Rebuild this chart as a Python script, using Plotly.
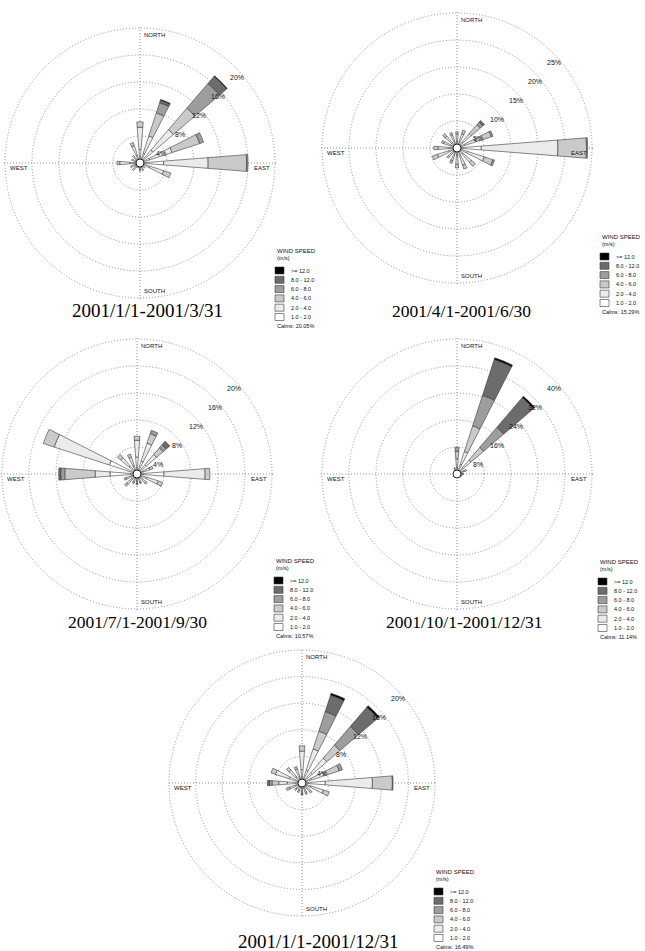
import math
import plotly.graph_objects as go

W, H = 645, 951

DIRS = ["N", "NNE", "NE", "ENE", "E", "ESE", "SE", "SSE",
        "S", "SSW", "SW", "WSW", "W", "WNW", "NW", "NNW"]
THETA = [i * 22.5 for i in range(16)]
BINS = ["1.0 - 2.0", "2.0 - 4.0", "4.0 - 6.0", "6.0 - 8.0", "8.0 - 12.0", ">= 12.0"]
COLORS = ["#ffffff", "#ebebeb", "#cacaca", "#9d9d9d", "#6c6c6c", "#000000"]

# frequency (%) per speed bin (rows) and direction (columns)
jan_mar = [
    [2.0, 1.5, 2.5, 1.5, 3.5, 1.5, 0.6, 0.7, 0.6, 0.5, 0.8, 0.8, 1.5, 0.7, 0.8, 1.2],
    [3.3, 2.7, 4.0, 3.5, 6.6, 2.2, 0.4, 0.5, 0.4, 0.3, 0.7, 0.7, 1.5, 0.6, 0.7, 1.5],
    [0.8, 3.6, 4.2, 4.3, 5.7, 1.1, 0.0, 0.0, 0.2, 0.0, 0.0, 0.0, 0.4, 0.0, 0.0, 0.5],
    [0.0, 1.6, 4.8, 0.6, 0.2, 0.0, 0.0, 0.0, 0.0, 0.0, 0.0, 0.0, 0.0, 0.0, 0.0, 0.0],
    [0.0, 0.4, 1.4, 0.0, 0.0, 0.0, 0.0, 0.0, 0.0, 0.0, 0.0, 0.0, 0.0, 0.0, 0.0, 0.0],
    [0.0, 0.1, 0.1, 0.0, 0.0, 0.0, 0.0, 0.0, 0.0, 0.0, 0.0, 0.0, 0.0, 0.0, 0.0, 0.0],
]
apr_jun = [
    [1.2, 1.2, 1.5, 1.5, 4.5, 2.0, 1.5, 1.5, 1.4, 1.2, 1.0, 1.6, 1.5, 1.2, 1.3, 1.2],
    [1.4, 1.6, 2.0, 2.2, 14.2, 3.3, 2.0, 1.8, 1.6, 1.3, 1.1, 2.2, 2.0, 1.4, 1.6, 1.4],
    [0.4, 0.7, 2.2, 3.0, 5.3, 1.7, 1.0, 0.8, 0.7, 0.5, 0.4, 1.0, 0.8, 0.4, 0.6, 0.4],
    [0.0, 0.0, 0.6, 0.3, 0.2, 0.3, 0.0, 0.0, 0.0, 0.0, 0.0, 0.0, 0.0, 0.0, 0.0, 0.0],
    [0.0, 0.0, 0.4, 0.0, 0.0, 0.0, 0.0, 0.0, 0.0, 0.0, 0.0, 0.0, 0.0, 0.0, 0.0, 0.0],
    [0.0] * 16,
]
jul_sep = [
    [2.5, 2.0, 1.8, 1.0, 4.0, 1.5, 0.9, 0.7, 0.6, 0.7, 1.0, 0.9, 4.0, 4.3, 1.6, 1.3],
    [2.5, 2.8, 2.0, 1.0, 6.1, 1.8, 0.8, 0.6, 0.5, 0.6, 1.0, 0.8, 2.2, 8.6, 1.6, 1.3],
    [0.6, 1.5, 1.3, 0.5, 0.7, 0.7, 0.3, 0.2, 0.3, 0.2, 0.4, 0.3, 4.5, 1.7, 0.6, 0.5],
    [0.0, 0.5, 0.6, 0.0, 0.0, 0.0, 0.0, 0.0, 0.2, 0.0, 0.0, 0.0, 0.6, 0.0, 0.0, 0.0],
    [0.0, 0.0, 0.7, 0.0, 0.0, 0.0, 0.0, 0.0, 0.0, 0.0, 0.0, 0.0, 0.3, 0.0, 0.0, 0.0],
    [0.0] * 16,
]
oct_dec = [
    [2.0, 3.0, 2.5, 1.0, 0.8, 0.7, 0.5, 0.4, 0.4, 0.3, 0.3, 0.3, 0.5, 0.5, 0.7, 1.0],
    [2.5, 4.0, 3.0, 1.2, 0.8, 0.6, 0.4, 0.3, 0.3, 0.3, 0.3, 0.3, 0.3, 0.3, 0.5, 0.7],
    [2.2, 8.0, 4.9, 0.8, 0.4, 0.2, 0.1, 0.1, 0.1, 0.0, 0.0, 0.0, 0.0, 0.0, 0.0, 0.3],
    [1.2, 9.5, 7.8, 0.0, 0.0, 0.0, 0.0, 0.0, 0.0, 0.0, 0.0, 0.0, 0.0, 0.0, 0.0, 0.0],
    [0.0, 11.2, 11.6, 0.0, 0.0, 0.0, 0.0, 0.0, 0.0, 0.0, 0.0, 0.0, 0.0, 0.0, 0.0, 0.0],
    [0.0, 0.5, 0.5, 0.0, 0.0, 0.0, 0.0, 0.0, 0.0, 0.0, 0.0, 0.0, 0.0, 0.0, 0.0, 0.0],
]
full_year = [
    [2.0, 2.0, 2.0, 1.5, 3.5, 1.4, 0.9, 0.8, 0.7, 0.6, 0.6, 1.0, 2.2, 2.0, 1.2, 1.0],
    [2.8, 3.4, 2.9, 2.0, 7.1, 2.0, 0.8, 0.7, 0.6, 0.6, 0.6, 1.0, 1.3, 2.2, 1.4, 1.2],
    [0.8, 2.8, 2.6, 2.4, 3.0, 0.9, 0.3, 0.3, 0.3, 0.3, 0.3, 0.5, 1.0, 0.7, 0.5, 0.4],
    [0.0, 3.1, 3.7, 0.5, 0.1, 0.0, 0.0, 0.0, 0.2, 0.0, 0.0, 0.0, 0.4, 0.0, 0.0, 0.0],
    [0.0, 2.6, 3.8, 0.0, 0.0, 0.0, 0.0, 0.0, 0.0, 0.0, 0.0, 0.0, 0.3, 0.0, 0.0, 0.0],
    [0.0, 0.3, 0.3, 0.0, 0.0, 0.0, 0.0, 0.0, 0.0, 0.0, 0.0, 0.0, 0.0, 0.0, 0.0, 0.0],
]

TITLES = ["2001/1/1-2001/3/31", "2001/4/1-2001/6/30", "2001/7/1-2001/9/30",
          "2001/10/1-2001/12/31", "2001/1/1-2001/12/31"]
CALMS = [20.05, 15.29, 10.57, 11.14, 16.49]
RING_TICKS = [[4, 8, 12, 16, 20], [5, 10, 15, 20, 25], [4, 8, 12, 16, 20],
              [8, 16, 24, 32, 40], [4, 8, 12, 16, 20]]
PERIODS = [jan_mar, apr_jun, jul_sep, oct_dec, full_year]

# layout (pixel geometry of each rose: centre x, centre y, outer-ring radius)
GEOM = [(140, 163, 135), (457, 148, 135), (137, 474, 135), (457, 474, 135), (302, 783, 133)]
TITLE_POS = [(147, 311, 19), (461, 311, 17.5), (137, 622, 17.5), (464, 622, 17.5), (318, 941, 19)]
LEG_POS = [(275, 251), (600, 237), (274, 561), (598, 562), (434, 872)]

GRID = "#8a8fa0"
PAD = 1.012


def px(x):
    return x / W


def py(y):
    return 1 - y / H


fig = go.Figure()
annotations = []
shapes = []

for k, data in enumerate(PERIODS):
    sub = "polar" if k == 0 else f"polar{k + 1}"
    for b in range(6):
        fig.add_trace(go.Barpolar(
            r=data[b], theta=THETA, width=9, subplot=sub, name=BINS[b],
            marker=dict(color=COLORS[b], line=dict(color="#3a3a3a", width=0.6)),
            showlegend=False,
        ))
    fig.add_trace(go.Scatterpolar(
        r=[0], theta=[0], mode="markers", subplot=sub, showlegend=False,
        marker=dict(size=8, color="white", line=dict(color="#222", width=1)),
    ))

    cx, cy, R = GEOM[k]
    Rd = R * PAD
    ticks = RING_TICKS[k]
    fig.update_layout(**{sub: dict(
        domain=dict(x=[px(cx - Rd), px(cx + Rd)], y=[py(cy + Rd), py(cy - Rd)]),
        bgcolor="white",
        barmode="stack",
        radialaxis=dict(range=[0, ticks[-1] * PAD], tickvals=ticks,
                        showticklabels=False, showline=False, ticks="",
                        gridcolor=GRID, griddash="1px,2px", gridwidth=1, layer="above traces"),
        angularaxis=dict(rotation=90, direction="clockwise", tickvals=[0, 90, 180, 270],
                         showticklabels=False, ticks="", showline=False,
                         gridcolor=GRID, griddash="1px,2px", gridwidth=1, layer="below traces"),
    )})

    # ring labels: just below where each ring crosses the 45 degree line
    for t in ticks:
        rp = R * t / ticks[-1]
        annotations.append(dict(
            x=px(cx + rp * math.cos(math.radians(45)) + 1.5),
            y=py(cy - rp * math.sin(math.radians(45)) + 9.5),
            xref="paper", yref="paper", showarrow=False, text=f"{t}%",
            xanchor="center", yanchor="middle",
            font=dict(size=7, family="Liberation Sans", color="#111")))

    lab_font = dict(size=6, family="Liberation Sans", color="#111")
    annotations += [
        dict(x=px(cx + 2), y=py(cy - R + 7), text="NORTH", xanchor="left", yanchor="middle"),
        dict(x=px(cx + 2), y=py(cy + R - 7), text="SOUTH", xanchor="left", yanchor="middle"),
        dict(x=px(cx + R - 3), y=py(cy + 5), text="EAST", xanchor="right", yanchor="middle"),
        dict(x=px(cx - R + 3), y=py(cy + 5), text="WEST", xanchor="left", yanchor="middle"),
    ]
    for a in annotations[-4:]:
        a.update(xref="paper", yref="paper", showarrow=False, font=lab_font)

    tx, ty, ts = TITLE_POS[k]
    annotations.append(dict(x=px(tx), y=py(ty), xref="paper", yref="paper", showarrow=False,
                            text=TITLES[k], xanchor="center", yanchor="middle",
                            font=dict(size=ts, family="Liberation Serif", color="black")))

    # legend block
    lx, ly = LEG_POS[k]
    leg_font = dict(size=5.5, family="Liberation Sans", color="#111")
    annotations.append(dict(x=px(lx), y=py(ly), xref="paper", yref="paper", showarrow=False,
                            text="WIND SPEED", xanchor="left", yanchor="middle",
                            font=dict(size=6, family="Liberation Sans", color="#111")))
    annotations.append(dict(x=px(lx), y=py(ly + 7), xref="paper", yref="paper", showarrow=False,
                            text="(m/s)", xanchor="left", yanchor="middle", font=leg_font))
    for i, b in enumerate(reversed(range(6))):
        top = ly + 16 + i * 9.3
        shapes.append(dict(type="rect", xref="paper", yref="paper",
                           x0=px(lx), x1=px(lx + 9), y0=py(top), y1=py(top + 7),
                           fillcolor=COLORS[b], line=dict(color="#3a3a3a", width=0.6)))
        annotations.append(dict(x=px(lx + 14), y=py(top + 3.5), xref="paper", yref="paper",
                                showarrow=False, text=BINS[b], xanchor="left", yanchor="middle",
                                font=leg_font))
    annotations.append(dict(x=px(lx), y=py(ly + 75), xref="paper", yref="paper", showarrow=False,
                            text=f"Calms: {CALMS[k]:.2f}%", xanchor="left", yanchor="middle",
                            font=leg_font))

fig.update_layout(
    width=W, height=H, margin=dict(l=0, r=0, t=0, b=0),
    paper_bgcolor="white", plot_bgcolor="white",
    showlegend=False, annotations=annotations, shapes=shapes,
)

fig.write_html("out.html")
